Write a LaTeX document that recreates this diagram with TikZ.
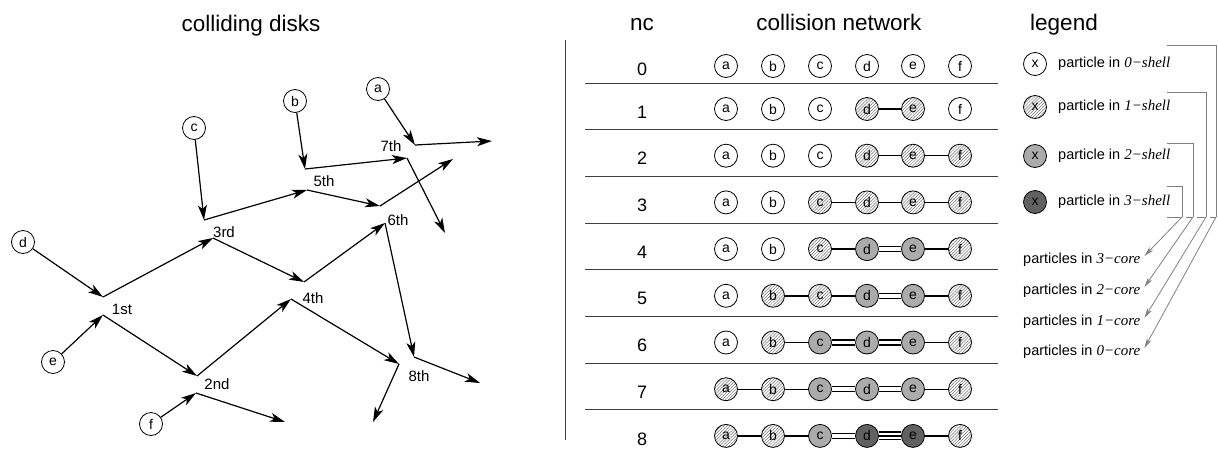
\documentclass[tikz,border=0pt]{standalone}
\usepackage{fontspec}
\setmainfont{Liberation Sans}
\newfontfamily\tms{Liberation Serif}
\usetikzlibrary{arrows.meta,patterns.meta}
\tikzset{
  disk/.style={circle,draw,line width=0.8pt,minimum size=23pt,inner sep=0pt,font=\fontsize{14}{14}\selectfont},
  sh0/.style={disk,fill=white},
  sh1/.style={disk,pattern={Lines[angle=45,distance=2.2pt,line width=0.5pt]},pattern color=black!55},
  sh2/.style={disk,fill=black!33},
  sh3/.style={disk,fill=black!62},
  traj/.style={line width=1.2pt,-{Stealth[length=15pt,width=9pt,inset=4pt]}},
  lab/.style={font=\fontsize{15}{15}\selectfont},
  head/.style={font=\fontsize{22.5}{22.5}\selectfont,anchor=base},
  digit/.style={font=\fontsize{18}{18}\selectfont},
  legtext/.style={font=\fontsize{14.5}{14.5}\selectfont,inner sep=0pt},
  l1/.style={line width=1.4pt},
  l2/.style={line width=1.2pt,double,double distance=3.8pt},
  l3/.style={line width=1.2pt,double,double distance=6.6pt},
  sep/.style={line width=1pt,black!75},
  brk/.style={line width=0.8pt,black!50},
  brkarr/.style={line width=0.8pt,black!50,-{Stealth[length=10pt,width=5pt,inset=3pt]}},
}
\newcommand{\shl}[1]{{\tms\itshape\fontsize{15}{15}\selectfont #1}}
\begin{document}
\begin{tikzpicture}[x=1pt,y=-1pt]
\useasboundingbox (0,0) rectangle (1218,450);
% headers
\node[head] (h1) at (251,31) {colliding disks};
\node[head] (h2) at (642,30) {nc};
\node[head] (h3) at (839,30) {collision network};
\node[head] (h4) at (1064,30) {legend};
% ---------- colliding disks ----------
\node[sh0] (da) at (378,89) {a};
\node[sh0] (db) at (295,101) {b};
\node[sh0] (dc) at (194,128) {c};
\node[sh0] (dd) at (23,242) {d};
\node[sh0] (de) at (53,362) {e};
\node[sh0] (df) at (151,424) {f};
\coordinate (k1u) at (103,297); \coordinate (k1l) at (103,315);
\coordinate (k2u) at (197,376); \coordinate (k2l) at (196,393);
\coordinate (k3u) at (204,220); \coordinate (k3l) at (213,238);
\coordinate (k4u) at (304,282); \coordinate (k4l) at (291,299);
\coordinate (k5u) at (305,169); \coordinate (k5l) at (307,190);
\coordinate (k6u) at (380,206); \coordinate (k6l) at (385,223);
\coordinate (k7u) at (415,145); \coordinate (k7l) at (407,158);
\coordinate (k8u) at (414,357); \coordinate (k8l) at (399,364);
\coordinate (ea) at (492,141); \coordinate (eb) at (445,233);
\coordinate (ec) at (453,159); \coordinate (ed) at (480,383);
\coordinate (ee) at (373,422); \coordinate (ef) at (285,422);
% a
\draw[traj] (da) -- (k7u); \draw[traj] (k7u) -- (ea);
% b
\draw[traj] (db) -- (k5u); \draw[traj] (k5u) -- (k7l); \draw[traj] (k7l) -- (eb);
% c
\draw[traj] (dc) -- (k3u); \draw[traj] (k3u) -- (k5l); \draw[traj] (k5l) -- (k6u); \draw[traj] (k6u) -- (ec);
% d
\draw[traj] (dd) -- (k1u); \draw[traj] (k1u) -- (k3l); \draw[traj] (k3l) -- (k4u);
\draw[traj] (k4u) -- (k6l); \draw[traj] (k6l) -- (k8u); \draw[traj] (k8u) -- (ed);
% e
\draw[traj] (de) -- (k1l); \draw[traj] (k1l) -- (k2u); \draw[traj] (k2u) -- (k4l);
\draw[traj] (k4l) -- (k8l); \draw[traj] (k8l) -- (ee);
% f
\draw[traj] (df) -- (k2l); \draw[traj] (k2l) -- (ef);
% labels
\node[lab] (L1) at (122,309) {1st};
\node[lab] (L2) at (217,384) {2nd};
\node[lab] (L3) at (224,232) {3rd};
\node[lab] (L4) at (313,298) {4th};
\node[lab] (L5) at (324,181) {5th};
\node[lab] (L6) at (398,220) {6th};
\node[lab] (L7) at (391,146) {7th};
\node[lab] (L8) at (419,376) {8th};
% ---------- collision network ----------
\draw[sep] (565,40) -- (565,440);
\foreach \k in {0,...,7} \draw[sep] (585,{83+46.7*\k}) -- (998,{83+46.7*\k});
\foreach \r/\sa/\sb/\sc/\sd/\se/\sf in {
  0/sh0/sh0/sh0/sh0/sh0/sh0,
  1/sh0/sh0/sh0/sh1/sh1/sh0,
  2/sh0/sh0/sh0/sh1/sh1/sh1,
  3/sh0/sh0/sh1/sh1/sh1/sh1,
  4/sh0/sh0/sh1/sh2/sh2/sh1,
  5/sh0/sh1/sh1/sh2/sh2/sh1,
  6/sh0/sh1/sh2/sh2/sh2/sh1,
  7/sh1/sh1/sh2/sh2/sh2/sh1,
  8/sh1/sh1/sh2/sh3/sh3/sh1}{
  \pgfmathsetmacro\yy{\r==0 ? 66 : 109+46.7*(\r-1)}
  \node[digit] (nc\r) at (642,\yy+3) {\r};
  \node[\sa] (n\r-a) at (726,\yy) {a};
  \node[\sb] (n\r-b) at (773,\yy) {b};
  \node[\sc] (n\r-c) at (820,\yy) {c};
  \node[\sd] (n\r-d) at (867,\yy) {d};
  \node[\se] (n\r-e) at (913,\yy) {e};
  \node[\sf] (n\r-f) at (960,\yy) {f};
}
\foreach \r/\links in {
  1/{d/e/l1},
  2/{d/e/l1,e/f/l1},
  3/{c/d/l1,d/e/l1,e/f/l1},
  4/{c/d/l1,d/e/l2,e/f/l1},
  5/{b/c/l1,c/d/l1,d/e/l2,e/f/l1},
  6/{b/c/l1,c/d/l2,d/e/l2,e/f/l1},
  7/{a/b/l1,b/c/l1,c/d/l2,d/e/l2,e/f/l1},
  8/{a/b/l1,b/c/l1,c/d/l2,d/e/l3,d/e/l1,e/f/l1}}{
  \foreach \u/\v/\t in \links {\draw[\t] (n\r-\u) -- (n\r-\v);}
}
% ---------- legend ----------
\node[sh0] (x0) at (1035,64) {x};
\node[sh1] (x1) at (1035,107) {x};
\node[sh2] (x2) at (1035,156) {x};
\node[sh3] (x3) at (1035,202) {x};
\node[legtext,anchor=west] (t0) at (1058,64) {particle in \shl{0−shell}};
\node[legtext,anchor=west] (t1) at (1058,107) {particle in \shl{1−shell}};
\node[legtext,anchor=west] (t2) at (1058,156) {particle in \shl{2−shell}};
\node[legtext,anchor=west] (t3) at (1058,202) {particle in \shl{3−shell}};
\draw[brk] (1167,45) -| (1216,217);
\draw[brk] (1167,92) -| (1206,217);
\draw[brk] (1167,143) -| (1193,217);
\draw[brk] (1167,186) -| (1182,217);
\draw[brk] (1167,217) -- (1182,217);
\draw[brk] (1186,217) -- (1193,217);
\draw[brk] (1197,217) -- (1206,217);
\draw[brk] (1210,217) -- (1216,217);
\node[legtext,anchor=west] (c3) at (1023,260) {particles in \shl{3−core}};
\node[legtext,anchor=west] (c2) at (1023,291) {particles in \shl{2−core}};
\node[legtext,anchor=west] (c1) at (1023,322) {particles in \shl{1−core}};
\node[legtext,anchor=west] (c0) at (1023,352) {particles in \shl{0−core}};
\coordinate (b3) at (1182,217); \coordinate (b2) at (1193,217);
\coordinate (b1) at (1206,217); \coordinate (b0) at (1216,217);
\draw[brkarr] (b3) -- ([xshift=4pt,yshift=4pt]c3.east);
\draw[brkarr] (b2) -- ([xshift=4pt,yshift=4pt]c2.east);
\draw[brkarr] (b1) -- ([xshift=4pt,yshift=4pt]c1.east);
\draw[brkarr] (b0) -- ([xshift=4pt,yshift=4pt]c0.east);
\end{tikzpicture}
\end{document}
